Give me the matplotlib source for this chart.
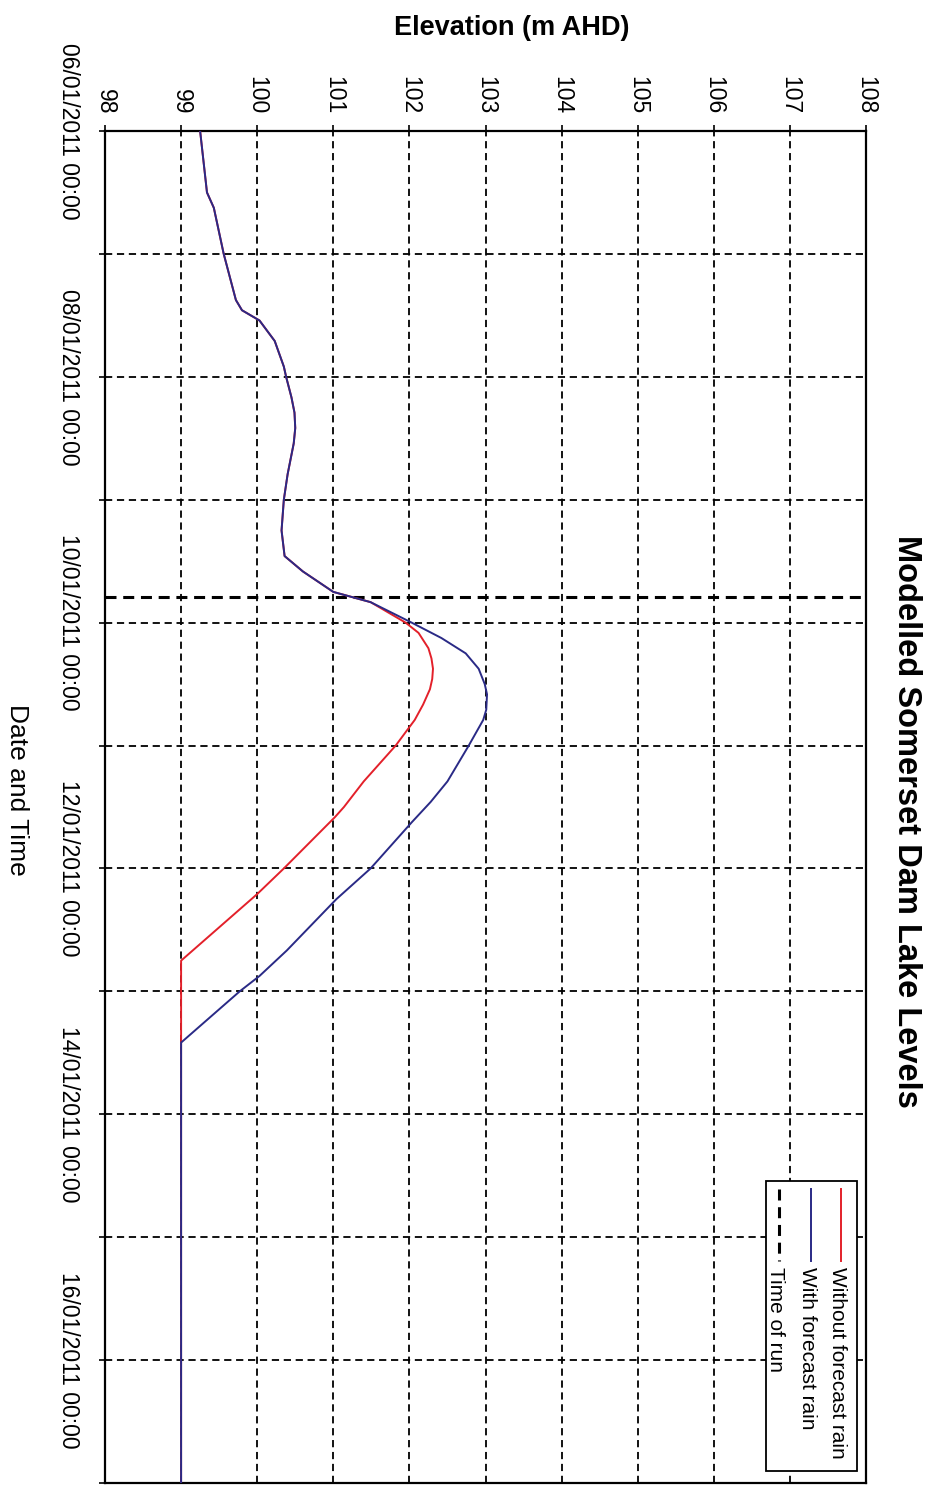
#!/usr/bin/env python3
# -*- coding: utf-8 -*-
"""
Modelled Somerset Dam lake levels, drawn turned a quarter turn clockwise
(the way the scanned page sits): elevation runs left -> right, time runs
top -> bottom and all text reads downwards.
"""

import pandas as pd
import matplotlib
matplotlib.use("Agg")
import matplotlib.pyplot as plt
import matplotlib.dates as mdates
from matplotlib.patches import Rectangle
from matplotlib.lines import Line2D


W, H, DPI = 931, 1494, 100

START = pd.Timestamp("2011-01-06 00:00")
END = pd.Timestamp("2011-01-17 00:00")
RUN_TIME = pd.Timestamp("2011-01-09 19:00")

# hours after 06/01/2011 00:00, lake level (m AHD)
HOURS_WITH = [0, 12, 15, 24, 33, 35, 37, 41, 46, 48,
              52, 55, 58, 61, 67, 72, 78, 83, 86, 90,
              92, 96, 99, 102, 105, 108, 110, 113, 115, 120,
              127, 131, 135, 144, 150, 160, 165, 168, 178, 264]
LEVEL_WITH = [99.25, 99.34, 99.43, 99.56, 99.72, 99.80, 100.03, 100.23, 100.35, 100.38,
              100.45, 100.49, 100.50, 100.48, 100.40, 100.35, 100.32, 100.36, 100.60, 101.00,
              101.49, 102.03, 102.42, 102.74, 102.91, 102.99, 103.02, 103.01, 102.97, 102.78,
              102.50, 102.28, 102.03, 101.49, 101.04, 100.39, 100.03, 99.77, 99.00, 99.00]

HOURS_WITHOUT = [0, 12, 15, 24, 33, 35, 37, 41, 46, 48,
                 52, 55, 58, 61, 67, 72, 78, 83, 86, 90,
                 92, 96, 98, 101, 103, 105, 107, 109, 112, 115,
                 120, 127, 132, 134, 144, 149, 162, 264]
LEVEL_WITHOUT = [99.25, 99.34, 99.43, 99.56, 99.72, 99.80, 100.03, 100.23, 100.35, 100.38,
                 100.45, 100.49, 100.50, 100.48, 100.40, 100.35, 100.32, 100.36, 100.60, 101.00,
                 101.49, 101.95, 102.12, 102.25, 102.29, 102.31, 102.30, 102.27, 102.18, 102.07,
                 101.82, 101.40, 101.14, 101.02, 100.35, 100.00, 99.00, 99.00]

ELEV_TICKS = list(range(98, 109))

TITLE = "Modelled Somerset Dam Lake Levels"
X_TITLE = "Elevation (m AHD)"
Y_TITLE = "Date and Time"
LEGEND_LABELS = ["Without forecast rain", "With forecast rain", "Time of run"]

RED = "#e3202a"
BLUE = "#2a2a86"
GRID_DASH = (0, (4.0, 2.6))
RUN_DASH = (0, (3.6, 2.2))


def px(x, y):
    """image pixel (top-left origin) -> figure fraction"""
    return x / W, 1 - y / H


def main():
    plt.rcParams["font.family"] = ["Liberation Sans", "DejaVu Sans"]

    fig = plt.figure(figsize=(W / DPI, H / DPI), dpi=DPI)
    fig.patch.set_facecolor("white")
    ax = fig.add_axes([105 / W, 1 - 1483 / H, (866 - 105) / W, (1483 - 131) / H])

    t_with = START + pd.to_timedelta(HOURS_WITH, unit="h")
    t_without = START + pd.to_timedelta(HOURS_WITHOUT, unit="h")

    ax.plot(LEVEL_WITHOUT, t_without.to_pydatetime(), color=RED, lw=1.4, zorder=3)
    ax.plot(LEVEL_WITH, t_with.to_pydatetime(), color=BLUE, lw=1.4, zorder=4)
    ax.axhline(RUN_TIME.to_pydatetime(), color="k", lw=2.2, linestyle=RUN_DASH, zorder=2)

    ax.set_xlim(ELEV_TICKS[0], ELEV_TICKS[-1])
    ax.set_ylim(END.to_pydatetime(), START.to_pydatetime())

    ax.xaxis.tick_top()
    ax.set_xticks(ELEV_TICKS)
    major = pd.date_range(START, END - pd.Timedelta(days=1), freq="2D")
    minor = pd.date_range(START, END, freq="1D")
    ax.set_yticks(major.to_pydatetime())
    ax.set_yticks(minor.to_pydatetime(), minor=True)
    ax.yaxis.set_major_formatter(mdates.DateFormatter("%d/%m/%Y %H:%M"))

    ax.grid(which="both", color="k", lw=1.3, linestyle=GRID_DASH, zorder=1)
    ax.set_axisbelow(True)

    ax.tick_params(axis="both", which="both", direction="out", length=4,
                   width=1.2, colors="k", labelsize=16.5)
    ax.tick_params(axis="x", pad=8, labelrotation=-90)
    ax.tick_params(axis="y", pad=14, labelrotation=-90)
    for lab in ax.get_yticklabels():
        lab.set_va("center")
        lab.set_ha("right")

    for sp in ax.spines.values():
        sp.set_linewidth(1.6)
        sp.set_color("k")

    # titles, turned with the page
    fig.text(*px(907, 821), TITLE, rotation=-90, ha="center", va="center",
             fontsize=23.5, fontweight="bold")
    fig.text(*px(512, 28), X_TITLE, ha="center", va="center",
             fontsize=19.5, fontweight="bold")
    fig.text(*px(17, 790), Y_TITLE, rotation=-90, ha="center", va="center",
             fontsize=19)

    # legend box drawn by hand so its text can read downwards
    box_l, box_r, box_t, box_b = 766, 857, 1181, 1471
    fig.add_artist(Rectangle(px(box_l, box_b), (box_r - box_l) / W, (box_b - box_t) / H,
                             transform=fig.transFigure, facecolor="white",
                             edgecolor="k", lw=1.3, zorder=5))
    styles = [dict(color=RED, lw=1.4, linestyle="-"),
              dict(color=BLUE, lw=1.4, linestyle="-"),
              dict(color="k", lw=2.2, linestyle=RUN_DASH)]
    for x, label, st in zip([841, 811, 779], LEGEND_LABELS, styles):
        (x0, y0), (x1, y1) = px(x, box_t + 8), px(x, box_t + 80)
        fig.add_artist(Line2D([x0, x1], [y0, y1], transform=fig.transFigure,
                              zorder=6, **st))
        fig.text(*px(x - 4, box_t + 86), label, rotation=-90, ha="center",
                 va="top", fontsize=15, zorder=6)

    fig.savefig("out.png", dpi=DPI)
    plt.close(fig)


if __name__ == "__main__":
    main()
